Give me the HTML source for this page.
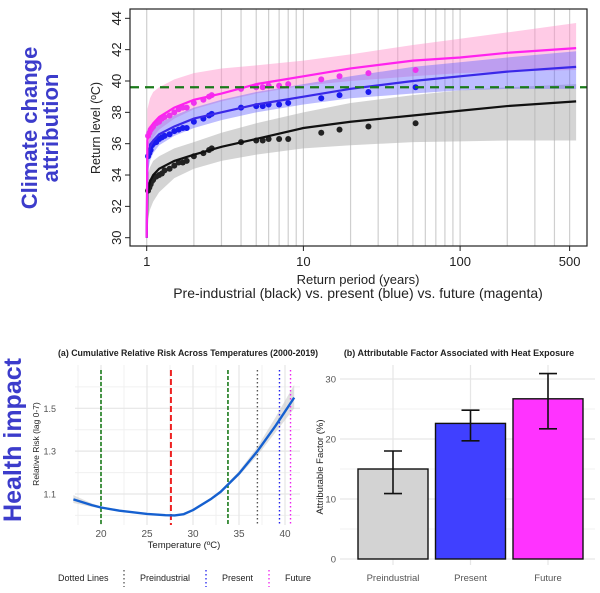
<!DOCTYPE html>
<html><head><meta charset="utf-8"><style>
body{margin:0;background:#fff;}
svg{display:block;font-family:"Liberation Sans",Arial,sans-serif;}
</style></head><body>
<svg id="fig" width="600" height="593" viewBox="0 0 600 593" xmlns="http://www.w3.org/2000/svg">
<g id="top"></g>
<g id="left"></g>
<g id="right"></g>
<text x="37" y="128" transform="rotate(-90 37 128)" text-anchor="middle" font-size="22" font-weight="bold" fill="#3c3ccb">Climate change</text>
<text x="58" y="128" transform="rotate(-90 58 128)" text-anchor="middle" font-size="22" font-weight="bold" fill="#3c3ccb">attribution</text>
<text x="21" y="440" transform="rotate(-90 21 440)" text-anchor="middle" font-size="25" font-weight="bold" fill="#3c3ccb">Health impact</text>
</svg>
<script>
const NS="http://www.w3.org/2000/svg";
function mk(p,t,a,txt){const e=document.createElementNS(NS,t);for(const k in a)e.setAttribute(k,a[k]);if(txt!==undefined)e.textContent=txt;p.appendChild(e);return e;}

// ===== Top chart data =====
const rpT=[1.0001,1.01,1.05,1.1,1.2,1.5,2,3,5,10,20,50,100,200,550];
const blackFit=[30,32.8,33.6,34.0,34.4,34.9,35.3,35.8,36.3,37.0,37.4,37.8,38.1,38.4,38.7];
const blueFit=[30,35.0,35.8,36.2,36.6,37.1,37.6,38.0,38.5,39.0,39.5,40.0,40.3,40.6,40.9];
const magFit=[30,36.2,37.0,37.3,37.7,38.3,38.8,39.2,39.8,40.3,40.8,41.3,41.5,41.8,42.1];
const blackLo=[30,31.0,31.8,32.3,32.9,33.8,34.4,34.9,35.3,35.7,35.9,36.1,36.15,36.2,36.2];
const blackHi=[30,33.9,34.5,34.9,35.2,35.7,36.1,36.7,37.3,38.0,38.6,39.1,39.4,39.6,39.8];
const blueLo=[30,34.0,34.9,35.4,35.9,36.5,37.0,37.5,38.0,38.5,38.9,39.2,39.4,39.5,39.5];
const blueHi=[30,35.8,36.5,36.9,37.3,37.8,38.3,38.8,39.3,39.8,40.3,40.9,41.2,41.5,41.9];
const magLo=[30,35.0,35.9,36.4,36.9,37.6,38.2,38.7,39.2,39.7,40.0,40.3,40.5,40.6,40.7];
const magHi=[30,38.2,38.9,39.3,39.6,40.1,40.5,40.8,41.0,41.3,41.7,42.3,42.7,43.1,43.7];
const ptT=[1.02,1.04,1.06,1.08,1.1,1.15,1.2,1.25,1.3,1.4,1.5,1.6,1.7,1.8,2.0,2.3,2.5,2.6,4,5,5.5,6,7,8,13,17,26,52];
const blackPts=[33.0,33.2,33.4,33.6,33.7,33.9,34.0,34.1,34.3,34.4,34.6,34.8,34.8,34.9,35.2,35.4,35.6,35.7,36.1,36.2,36.2,36.3,36.3,36.3,36.7,36.9,37.1,37.3];
const bluePts=[35.2,35.4,35.6,35.9,36.0,36.1,36.3,36.4,36.5,36.6,36.8,36.9,37.0,37.0,37.4,37.6,37.8,37.9,38.3,38.4,38.4,38.5,38.5,38.6,38.9,39.1,39.3,39.6];
const magPts=[36.5,36.7,36.9,37.0,37.1,37.3,37.4,37.6,37.7,37.8,38.0,38.2,38.3,38.3,38.6,38.8,39.0,39.1,39.5,39.6,39.6,39.7,39.7,39.8,40.1,40.3,40.5,40.7];
const topYTicks=[30,32,34,36,38,40,42,44];
const topXTicks=[1,10,100,500];
const gridT=[1,2,3,4,5,6,7,8,9,10,20,30,40,50,60,70,80,90,100,200,300,400,500];
const threshold=39.6;

const T=document.getElementById('top');
const tx=v=>146.7+156.7*Math.log10(v);
const ty=v=>237.7-(v-30)*15.67;
const L=130,R=587,TOP=9,BOT=246;
gridT.forEach(g=>{const l=mk(T,'line',{x1:tx(g),x2:tx(g),y1:TOP,y2:BOT,stroke:'#cfcfcf','stroke-width':1.2});

});
function band(lo,hi,fill,op,name){let d='';rpT.forEach((t,i)=>{d+=(i?'L':'M')+tx(t)+','+ty(hi[i]);});
for(let i=rpT.length-1;i>=0;i--)d+='L'+tx(rpT[i])+','+ty(lo[i]);
const p=mk(T,'path',{d:d+'Z',fill:fill,'fill-opacity':op});

}
band(blackLo,blackHi,'#b0b0b0',0.55,'preindustrial-band');
band(magLo,magHi,'#ff8cc8',0.45,'future-band');
band(blueLo,blueHi,'#5a5aff',0.4,'present-band');
function line(v,col,name){const p=mk(T,'polyline',{points:rpT.map((t,i)=>tx(t)+','+ty(v[i])).join(' '),fill:'none',stroke:col,'stroke-width':2.2});

}
function pts(v,col,name){ptT.forEach((t,i)=>{const c=mk(T,'circle',{cx:tx(t),cy:ty(v[i]),r:3,fill:col});

});}
pts(blackPts,'#222','preindustrial-point');pts(bluePts,'#1a1aee','present-point');pts(magPts,'#ee33ee','future-point');
line(blackFit,'#111','preindustrial-fit');line(blueFit,'#3a28e8','present-fit');line(magFit,'#ff22ee','future-fit');
const th=mk(T,'line',{x1:L,x2:R,y1:ty(threshold),y2:ty(threshold),stroke:'#1a7a1a','stroke-width':2.2,'stroke-dasharray':'9,6'});


const frameRect=mk(T,'rect',{x:L,y:TOP,width:R-L,height:BOT-TOP,fill:'none',stroke:'#222','stroke-width':1.2});


topYTicks.forEach(v=>{mk(T,'line',{x1:L-5,x2:L,y1:ty(v),y2:ty(v),stroke:'#222'});
const t=mk(T,'text',{x:121,y:ty(v),transform:`rotate(-90 121 ${ty(v)})`,'text-anchor':'middle','font-size':13,fill:'#222'},v);

});
topXTicks.forEach(v=>{mk(T,'line',{x1:tx(v),x2:tx(v),y1:BOT,y2:BOT+5,stroke:'#222'});
const t=mk(T,'text',{x:tx(v),y:266,'text-anchor':'middle','font-size':13,fill:'#222'},v);

});
let e=mk(T,'text',{x:100,y:128,transform:'rotate(-90 100 128)','text-anchor':'middle','font-size':12.5,fill:'#222'},'Return level (ºC)');


e=mk(T,'text',{x:358,y:284,'text-anchor':'middle','font-size':13,fill:'#222'},'Return period (years)');


e=mk(T,'text',{x:358,y:298,'text-anchor':'middle','font-size':14,fill:'#222'},'Pre-industrial (black) vs. present (blue) vs. future (magenta)');



// ===== Panel (a) =====
const tempX=[17,19,20,22,25,27,28,29,30,32,33,35,37,39,41];
const rrVals=[1.075,1.048,1.037,1.022,1.007,1.001,1.0,1.006,1.025,1.078,1.11,1.195,1.3,1.42,1.55];
const rrLo=[1.058,1.04,1.032,1.019,1.004,0.999,0.998,1.003,1.02,1.072,1.104,1.185,1.28,1.39,1.5];
const rrHi=[1.095,1.056,1.043,1.026,1.01,1.003,1.002,1.009,1.03,1.085,1.117,1.207,1.32,1.46,1.61];
const aXTicks=[20,25,30,35,40];
const aYTicks=[1.1,1.3,1.5];
const vDash=[[20,'#1a7a1a'],[27.6,'#ee2222'],[33.8,'#1a7a1a']];
const vDot=[[37,'#555'],[39.4,'#2222ee'],[40.6,'#ee22ee']];
const A=document.getElementById('left');
const ax=v=>101+(v-20)*9.2;
const ay=v=>494-(v-1.1)*214.2;
const aL=75,aR=300,aT=365,aB=525;
[17.5,22.5,27.5,32.5,37.5].forEach(v=>mk(A,'line',{x1:ax(v),x2:ax(v),y1:aT,y2:aB,stroke:'#f0f0f0'}));
[1.0,1.2,1.4,1.6].forEach(v=>mk(A,'line',{x1:aL,x2:aR,y1:ay(v),y2:ay(v),stroke:'#f0f0f0'}));
aXTicks.forEach(v=>{mk(A,'line',{x1:ax(v),x2:ax(v),y1:aT,y2:aB,stroke:'#e6e6e6','stroke-width':1.2});
const t=mk(A,'text',{x:ax(v),y:537,'text-anchor':'middle','font-size':10,fill:'#555'},v);

});
aYTicks.forEach(v=>{mk(A,'line',{x1:aL,x2:aR,y1:ay(v),y2:ay(v),stroke:'#e6e6e6','stroke-width':1.2});
const t=mk(A,'text',{x:56,y:ay(v)+3.5,'text-anchor':'end','font-size':9,fill:'#555'},v.toFixed(1));

});
let d='';tempX.forEach((t,i)=>d+=(i?'L':'M')+ax(t)+','+ay(rrHi[i]));for(let i=tempX.length-1;i>=0;i--)d+='L'+ax(tempX[i])+','+ay(rrLo[i]);
e=mk(A,'path',{d:d+'Z',fill:'#cccccc','fill-opacity':0.6});


vDash.forEach(([v,c])=>{const l=mk(A,'line',{x1:ax(v),x2:ax(v),y1:aT+5,y2:aB,stroke:c,'stroke-width':c==='#ee2222'?2:1.6,'stroke-dasharray':c==='#ee2222'?'6,3':'4,2'});

});
vDot.forEach(([v,c])=>{const l=mk(A,'line',{x1:ax(v),x2:ax(v),y1:aT+5,y2:aB,stroke:c,'stroke-width':1.4,'stroke-dasharray':'1.5,2.5'});

});
e=mk(A,'polyline',{points:tempX.map((t,i)=>ax(t)+','+ay(rrVals[i])).join(' '),fill:'none',stroke:'#1560d0','stroke-width':2.4,'stroke-linejoin':'round'});


e=mk(A,'text',{x:58,y:356,'font-size':8.8,'font-weight':'bold',fill:'#222'},'(a) Cumulative Relative Risk Across Temperatures (2000-2019)');


e=mk(A,'text',{x:39,y:444,transform:'rotate(-90 39 444)','text-anchor':'middle','font-size':8.5,fill:'#222'},'Relative Risk (lag 0-7)');


e=mk(A,'text',{x:184,y:548,'text-anchor':'middle','font-size':9.5,fill:'#222'},'Temperature (ºC)');


e=mk(A,'text',{x:58,y:581,'font-size':9,fill:'#222'},'Dotted Lines');


[[124,'#555','Preindustrial'],[206,'#2222ee','Present'],[269,'#ee22ee','Future']].forEach(([x,c,n])=>{
const l=mk(A,'line',{x1:x,x2:x,y1:570,y2:587,stroke:c,'stroke-width':1.3,'stroke-dasharray':'1.5,2.5'});


const t=mk(A,'text',{x:x+16,y:581,'font-size':9,fill:'#222'},n);

});

// ===== Panel (b) =====
const bCats=['Preindustrial','Present','Future'];
const bVals=[15,22.6,26.7];
const bLo=[10.9,19.7,21.7];
const bHi=[18,24.8,30.9];
const bColors=['#d3d3d3','#4040ff','#ff33ff'];
const bYTicks=[0,10,20,30];
const B=document.getElementById('right');
const by=v=>559-v*6;
const bx=i=>393+i*77.5;
const bL=340,bR=595;
[5,15,25].forEach(v=>mk(B,'line',{x1:bL,x2:bR,y1:by(v),y2:by(v),stroke:'#f2f2f2'}));
bYTicks.forEach(v=>{mk(B,'line',{x1:bL,x2:bR,y1:by(v),y2:by(v),stroke:'#e6e6e6','stroke-width':1.2});
const t=mk(B,'text',{x:336,y:by(v)+3.5,'text-anchor':'end','font-size':9.5,fill:'#555'},v);

});
bCats.forEach((c,i)=>{mk(B,'line',{x1:bx(i),x2:bx(i),y1:365,y2:565,stroke:'#e6e6e6','stroke-width':1.2});});
bCats.forEach((c,i)=>{
const r=mk(B,'rect',{x:bx(i)-35,y:by(bVals[i]),width:70,height:by(0)-by(bVals[i]),fill:bColors[i],stroke:'#111','stroke-width':1.4});


const eb=mk(B,'path',{d:`M${bx(i)-9},${by(bHi[i])}H${bx(i)+9}M${bx(i)},${by(bHi[i])}V${by(bLo[i])}M${bx(i)-9},${by(bLo[i])}H${bx(i)+9}`,stroke:'#111','stroke-width':1.6,fill:'none'});


const t=mk(B,'text',{x:bx(i),y:581,'text-anchor':'middle','font-size':9.5,fill:'#555'},c);

});
e=mk(B,'text',{x:459,y:356,'text-anchor':'middle','font-size':9,'font-weight':'bold',fill:'#222'},'(b) Attributable Factor Associated with Heat Exposure');


e=mk(B,'text',{x:323,y:467,transform:'rotate(-90 323 467)','text-anchor':'middle','font-size':9.5,fill:'#222'},'Attributable Factor (%)');


</script>
</body></html>
